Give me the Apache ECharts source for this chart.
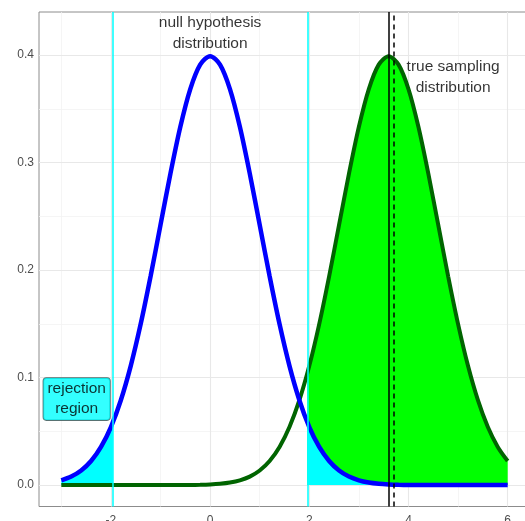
<!DOCTYPE html>
<html><head><meta charset="utf-8">
<script src="https://cdn.jsdelivr.net/npm/echarts@6/dist/echarts.min.js"></script>
<style>html,body{margin:0;padding:0;background:#fff}#c{width:525px;height:521px}</style>
</head><body><div id="c"></div>
<script>
// x grid of the curves
const xs = [-3,-2.8,-2.6,-2.4,-2.2,-2,-1.8,-1.6,-1.4,-1.2,-1,-0.8,-0.6,-0.4,-0.2,0,0.2,0.4,0.6,0.8,1,1.2,1.4,1.6,1.8,2,2.2,2.4,2.6,2.8,3,3.2,3.4,3.6,3.8,4,4.2,4.4,4.6,4.8,5,5.2,5.4,5.6,5.8,6];
// null hypothesis distribution (blue)
const nullDensity = [0.00443,0.00792,0.01358,0.02239,0.03547,0.05399,0.07895,0.11092,0.14973,0.19419,0.24197,0.28969,0.33322,0.36827,0.39104,0.39894,0.39104,0.36827,0.33322,0.28969,0.24197,0.19419,0.14973,0.11092,0.07895,0.05399,0.03547,0.02239,0.01358,0.00792,0.00443,0.00238,0.00123,0.00061,0.00029,0.00013,0.00006,0.00003,0.00001,0,0,0,0,0,0,0];
// true sampling distribution (green)
const trueDensity = [0,0,0,0,0,0,0,0,0,0,0.00001,0.00003,0.00006,0.00013,0.00029,0.00061,0.00123,0.00238,0.00443,0.00792,0.01358,0.02239,0.03547,0.05399,0.07895,0.11092,0.14973,0.19419,0.24197,0.28969,0.33322,0.36827,0.39104,0.39894,0.39104,0.36827,0.33322,0.28969,0.24197,0.19419,0.14973,0.11092,0.07895,0.05399,0.03547,0.02239];
const critValue = 1.96;
const nullAtCrit = 0.05844;
const trueAtCrit = 0.10396;
const trueMean = 3.6;
const observedMean = 3.71;
// axes
const xTicks = [-2,0,2,4,6];
const xMinor = [-3,-1,1,3,5];
const yTicks = [0,0.1,0.2,0.3,0.4];
const yMinor = [0.05,0.15,0.25,0.35];
const annotationText = ['null hypothesis\ndistribution','true sampling\ndistribution'];
const annotationX = [0,4.9];
const annotationY = [0.42,0.379];
const boxText = 'rejection\nregion';
const boxX = -2.69, boxY = 0.08;

const FONT = "'Liberation Sans', Arial, sans-serif";
const pairs = (ys) => xs.map((x,i)=>[x,ys[i]]);
const nullPts = pairs(nullDensity), truePts = pairs(trueDensity);
const leftTail = nullPts.filter(p=>p[0] <= -critValue).concat([[-critValue,nullAtCrit]]);
const rightTail = [[critValue,nullAtCrit]].concat(nullPts.filter(p=>p[0] >= critValue));
const power = [[critValue,trueAtCrit]].concat(truePts.filter(p=>p[0] >= critValue));
const SM = 0.3;

const chart = echarts.init(document.getElementById('c'), null, {renderer:'canvas'});
const vline = (v,color,w,type)=>({xAxis:v, lineStyle:{color:color,width:w,type:type}});
const hline = (v,color,w)=>({yAxis:v, lineStyle:{color:color,width:w,type:'solid'}});
chart.setOption({
  animation:false,
  backgroundColor:'#fff',
  grid:{left:39, right:-5, top:12, bottom:14.5, outerBoundsMode:'none', containLabel:false,
    show:true, borderColor:'#8c8c8c', borderWidth:1, backgroundColor:'#fff'},
  xAxis:{type:'value', min:-3.45, max:6.45,
    axisLine:{show:false}, splitLine:{show:false},
    axisTick:{show:true, customValues:xTicks, length:3, lineStyle:{color:'#8c8c8c'}},
    axisLabel:{customValues:xTicks, margin:8, fontSize:12, color:'#4d4d4d', fontFamily:FONT}},
  yAxis:{type:'value', min:-0.0199, max:0.44,
    axisLine:{show:false}, splitLine:{show:false},
    axisTick:{show:true, customValues:yTicks, length:3, lineStyle:{color:'#8c8c8c'}},
    axisLabel:{customValues:yTicks, margin:5, fontSize:12, color:'#4d4d4d', fontFamily:FONT,
      formatter:v=>v.toFixed(1)}},
  series:[
    {type:'line', data:[], z:1, silent:true,
      markLine:{z:1, silent:true, symbol:'none', label:{show:false}, animation:false,
        data:[].concat(xMinor.map(v=>vline(v,'#f2f2f2',0.8,'solid')), yMinor.map(v=>hline(v,'#f2f2f2',0.8)),
                       xTicks.map(v=>vline(v,'#e8e8e8',1.1,'solid')), yTicks.map(v=>hline(v,'#e8e8e8',1.1)))}},
    {type:'line', data:power, smooth:SM, showSymbol:false, z:2, lineStyle:{width:0}, areaStyle:{color:'#00ff00', opacity:1}},
    {type:'line', data:leftTail, smooth:SM, showSymbol:false, z:3, lineStyle:{width:0}, areaStyle:{color:'#00ffff', opacity:1}},
    {type:'line', data:rightTail, smooth:SM, showSymbol:false, z:3, lineStyle:{width:0}, areaStyle:{color:'#00ffff', opacity:1}},
    {type:'line', data:truePts, smooth:SM, showSymbol:false, z:4, lineStyle:{width:4, color:'#006400'}},
    {type:'line', data:nullPts, smooth:SM, showSymbol:false, z:5, lineStyle:{width:4.5, color:'#0000ff'}},
    {type:'line', data:[], z:6, silent:true,
      markLine:{z:6, silent:true, symbol:'none', label:{show:false}, animation:false,
        data:[vline(-critValue,'#00ffff',1.5,'solid'), vline(critValue,'#00ffff',1.5,'solid'),
              vline(trueMean,'#000',1.5,'solid'), vline(observedMean,'#000',1.5,[5,4])]}},
    {type:'scatter', z:7, symbolSize:0, silent:true,
      data:annotationText.map((t,i)=>({value:[annotationX[i],annotationY[i]], name:t})),
      label:{show:true, position:'inside', formatter:p=>p.name, fontSize:15.5, lineHeight:21, color:'#000', fontFamily:FONT, align:'center', verticalAlign:'middle'}},
    {type:'scatter', z:8, symbolSize:0, silent:true,
      data:[{value:[boxX,boxY], name:boxText}],
      label:{show:true, position:'inside', formatter:p=>p.name, fontSize:15.5, lineHeight:20, color:'#000', fontFamily:FONT,
        backgroundColor:'#00ffff', borderColor:'#2e4f4f', borderWidth:0.8, borderRadius:3, padding:[1,4,1,4], align:'center', verticalAlign:'middle'}}
  ]
});
</script></body></html>
